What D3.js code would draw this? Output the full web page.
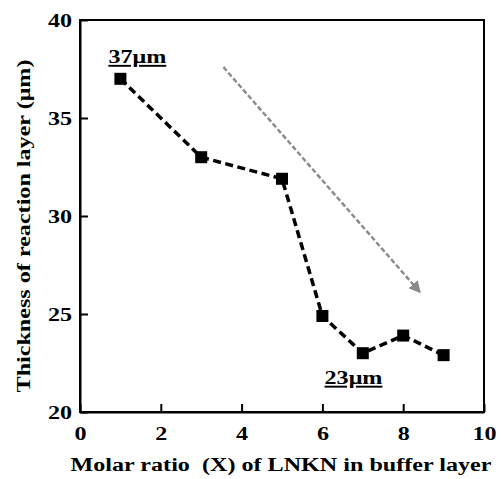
<!DOCTYPE html>
<html>
<head>
<meta charset="utf-8">
<script src="https://cdn.jsdelivr.net/npm/d3@7"></script>
<style>
  html, body { margin: 0; padding: 0; background: #fff; }
  svg text { font-family: "Liberation Serif", "Times New Roman", Times, serif; font-weight: bold; fill: #000; }
</style>
</head>
<body>
<svg id="chart" width="501" height="479"></svg>
<script>
// Molar ratio X of LNKN in the buffer layer
const molarRatio = [1, 3, 5, 6, 7, 8, 9];
// Thickness of the reaction layer (µm)
const thickness = [37, 33, 31.9, 24.9, 23, 23.9, 22.9];

const xTicks = [0, 2, 4, 6, 8, 10];
const yTicks = [20, 25, 30, 35, 40];

// Trend arrow end points (data units)
const trendX = [3.55, 8.42];
const trendY = [37.6, 26.1];

// Value callouts
const callouts = [
  { text: "37\u03bcm", x: 1.42, y: 37.8 },
  { text: "23\u03bcm", x: 6.77, y: 21.43 }
];

const margin = { left: 80, right: 17, top: 20, bottom: 67 };
const W = 501, H = 479;
const FS = 19;          // label font size
const WIDEN = 1.27;     // horizontal widening of the bold serif lettering
const svg = d3.select("#chart");

const x = d3.scaleLinear().domain([0, 10]).range([margin.left, W - margin.right]);
const y = d3.scaleLinear().domain([20, 40]).range([H - margin.bottom, margin.top]);

// frame
svg.append("rect")
  .attr("x", x(0)).attr("y", y(40))
  .attr("width", x(10) - x(0)).attr("height", y(20) - y(40))
  .attr("fill", "none").attr("stroke", "#000").attr("stroke-width", 2);

// axes with inward ticks
const xAxis = svg.append("g")
  .attr("transform", `translate(0,${y(20)})`)
  .call(d3.axisBottom(x).tickValues(xTicks).tickSizeInner(-8).tickSizeOuter(0));
const yAxis = svg.append("g")
  .attr("transform", `translate(${x(0)},0)`)
  .call(d3.axisLeft(y).tickValues(yTicks).tickSizeInner(-8).tickSizeOuter(0));

[xAxis, yAxis].forEach(g => {
  g.attr("font-family", null).attr("font-size", null);
  g.select(".domain").attr("stroke", "#000").attr("stroke-width", 2);
  g.selectAll(".tick line").attr("stroke", "#000").attr("stroke-width", 2);
  g.selectAll(".tick text").attr("font-size", FS);
});
xAxis.selectAll(".tick text")
  .attr("x", 0).attr("y", 28).attr("dy", null)
  .attr("transform", `scale(${WIDEN},1)`);
yAxis.selectAll(".tick text")
  .attr("x", -8 / WIDEN).attr("dy", "0.34em")
  .attr("transform", `scale(${WIDEN},1)`);

// axis titles
svg.append("text")
  .attr("transform", `translate(281,471) scale(${WIDEN},1)`)
  .attr("text-anchor", "middle").attr("font-size", FS)
  .attr("xml:space", "preserve")
  .text("Molar ratio  (X) of LNKN in buffer layer");

svg.append("text")
  .attr("transform", `translate(30,226) rotate(-90) scale(${WIDEN},1)`)
  .attr("text-anchor", "middle").attr("font-size", FS)
  .text("Thickness of reaction layer (\u03bcm)");

// gray trend arrow
svg.append("defs").append("marker")
  .attr("id", "arrowhead")
  .attr("viewBox", "0 0 10 10").attr("refX", 9).attr("refY", 5)
  .attr("markerWidth", 5).attr("markerHeight", 5)
  .attr("markerUnits", "strokeWidth")
  .attr("orient", "auto")
  .append("path").attr("d", "M0,0 L10,5 L0,10 Z").attr("fill", "#8a8a8a");

svg.append("line")
  .attr("x1", x(trendX[0])).attr("y1", y(trendY[0]))
  .attr("x2", x(trendX[1])).attr("y2", y(trendY[1]))
  .attr("stroke", "#8a8a8a").attr("stroke-width", 2.4)
  .attr("stroke-dasharray", "5,2.5")
  .attr("marker-end", "url(#arrowhead)");

// data line
const pts = molarRatio.map((m, i) => [m, thickness[i]]);
svg.append("path")
  .datum(pts)
  .attr("fill", "none").attr("stroke", "#000").attr("stroke-width", 3.5)
  .attr("stroke-dasharray", "8,4.5")
  .attr("d", d3.line().x(d => x(d[0])).y(d => y(d[1])));

// square markers
const s = 12;
svg.selectAll("rect.pt")
  .data(pts).enter().append("rect")
  .attr("class", "pt")
  .attr("x", d => x(d[0]) - s / 2).attr("y", d => y(d[1]) - s / 2)
  .attr("width", s).attr("height", s).attr("fill", "#000");

// underlined callouts
callouts.forEach(c => {
  svg.append("text")
    .attr("transform", `translate(${x(c.x)},${y(c.y)}) scale(${WIDEN},1)`)
    .attr("text-anchor", "middle").attr("font-size", FS)
    .attr("text-decoration", "underline")
    .text(c.text);
});
</script>
</body>
</html>
